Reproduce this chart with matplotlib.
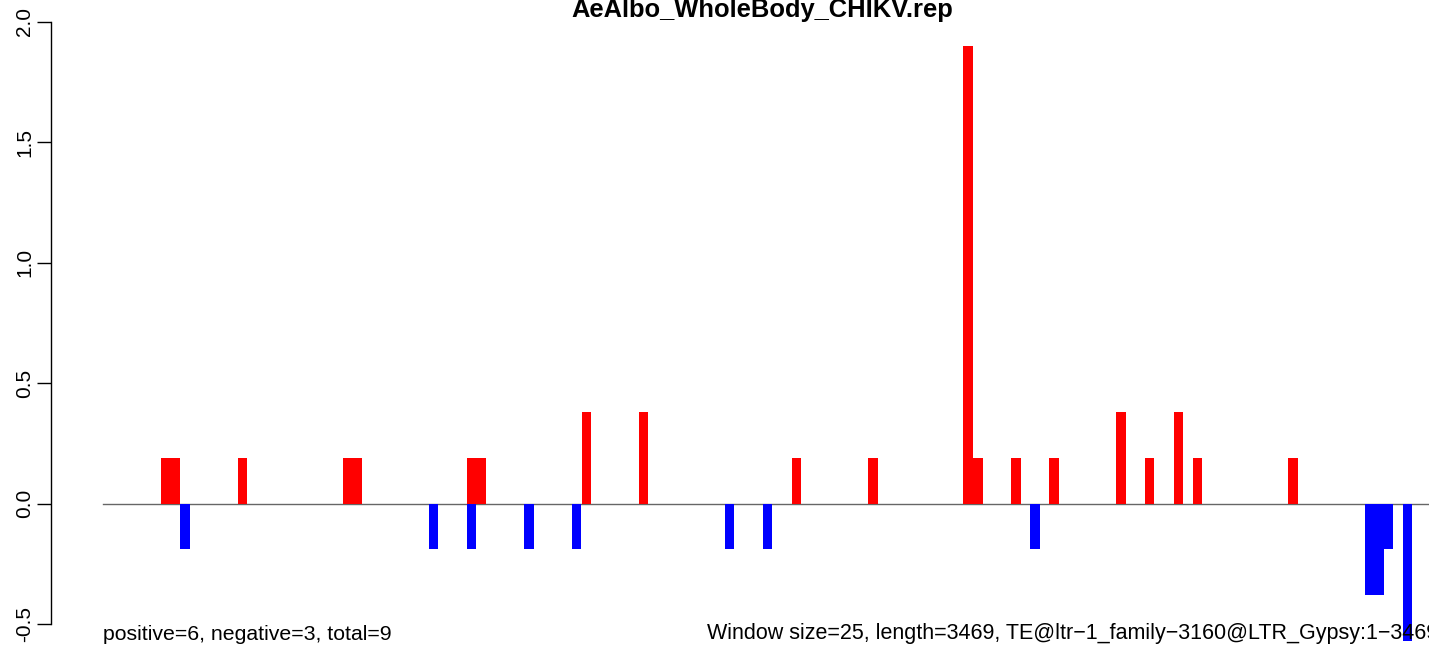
import matplotlib; matplotlib.use("Agg")
import matplotlib.pyplot as plt

# windows of 25 bp over a 3469 bp element -> 139 windows
win_size = 25
seq_len = 3469
n_win = 139
pos_idx = [6, 7, 14, 25, 26, 38, 39, 50, 56, 72, 80, 90, 91, 95, 99, 106, 109, 112, 114, 124]
pos_val = [0.19, 0.19, 0.19, 0.19, 0.19, 0.19, 0.19, 0.38, 0.38, 0.19,
           0.19, 1.9, 0.19, 0.19, 0.19, 0.38, 0.19, 0.38, 0.19, 0.19]
neg_idx = [8, 34, 38, 44, 49, 65, 69, 97, 132, 133, 134, 136]
neg_val = [-0.19, -0.19, -0.19, -0.19, -0.19, -0.19, -0.19, -0.19, -0.38, -0.38, -0.19, -0.57]
yticks = [-0.5, 0.0, 0.5, 1.0, 1.5, 2.0]

plt.rcParams['font.family'] = ['Liberation Sans', 'DejaVu Sans']
W, H = 1429, 649
fig = plt.figure(figsize=(W/100, H/100), dpi=100)
ax = fig.add_axes([51/W, 25/H, 1378/W, 602/H])

ax.bar(pos_idx, pos_val, width=1.0, align="edge", color="#ff0000", linewidth=0, clip_on=False)
ax.bar(neg_idx, neg_val, width=1.0, align="edge", color="#0000ff", linewidth=0, clip_on=False)
ax.plot([-0.1, n_win], [0, 0], color="#666666", lw=1.0, zorder=0)

unit = 9.55
x0 = -(104 - 51)/unit
ax.set_xlim(x0, x0 + 1378/unit)
ax.set_ylim(-0.5, 2.0)
for s in ["top", "right", "bottom"]:
    ax.spines[s].set_visible(False)
ax.spines["left"].set_bounds(-0.5, 2.0)
ax.spines["left"].set_linewidth(1.0)
ax.set_xticks([])
ax.set_yticks(yticks)
ax.set_yticklabels([f"{v:.1f}" for v in yticks], rotation=90, va="center", fontsize=15)
ax.tick_params(axis="y", length=10, width=1.0, pad=2)

fig.text(762.5/W, 1 - 10/H, "AeAlbo_WholeBody_CHIKV.rep", ha="center", va="center",
         fontsize=18.4, fontweight="bold")
fig.text(103/W, 1 - 634/H, "positive=6, negative=3, total=9", ha="left", va="center", fontsize=15.3)
fig.text(707/W, 1 - 634/H,
         f"Window size={win_size}, length={seq_len}, TE@ltr\u22121_family\u22123160@LTR_Gypsy:1\u2212{seq_len}",
         ha="left", va="center", fontsize=15.5)

fig.savefig("out.png", dpi=100)
